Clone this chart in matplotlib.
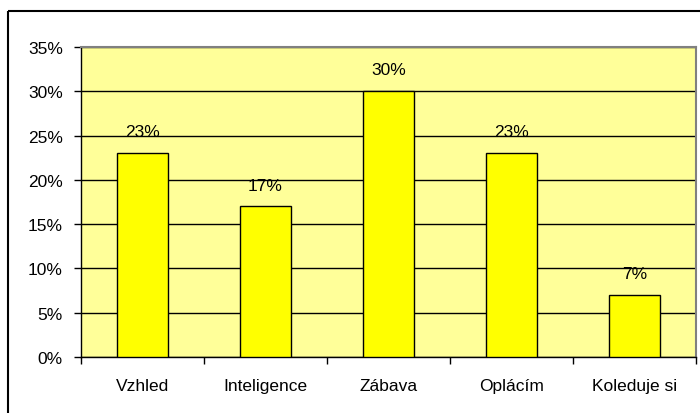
import matplotlib
matplotlib.use("Agg")
import matplotlib.pyplot as plt
from matplotlib.patches import Rectangle

categories = ["Vzhled", "Inteligence", "Zábava", "Oplácím", "Koleduje si"]
values = [23, 17, 30, 23, 7]
yticks = [0, 5, 10, 15, 20, 25, 30, 35]
ytick_labels = ["0%", "5%", "10%", "15%", "20%", "25%", "30%", "35%"]

W, H = 700, 414
fig = plt.figure(figsize=(W / 100, H / 100), dpi=100)
fig.patch.set_facecolor("white")
plt.rcParams["font.family"] = ["Liberation Sans", "DejaVu Sans"]

# outer chart border (cropped at right/bottom)
fig.patches.append(Rectangle((8 / W, 1 - 12 / H), 1.0, -1.0, transform=fig.transFigure,
                             fill=False, edgecolor="black", linewidth=1.5, zorder=10))

left, right, top, bottom = 81, 696, 48, 358
ax = fig.add_axes([left / W, 1 - bottom / H, (right - left) / W, (bottom - top) / H])
ax.set_facecolor("#FFFF99")

x = list(range(len(categories)))
bars = ax.bar(x, values, width=0.41, color="#FFFF00", edgecolor="black", linewidth=1.0, zorder=3)
ax.set_xlim(-0.5, len(categories) - 0.5)
ax.set_ylim(0, 35)

ax.set_yticks(yticks)
ax.set_yticklabels(ytick_labels, fontsize=12.5)
ax.yaxis.grid(True, color="black", linewidth=1.0, zorder=1)
ax.set_axisbelow(True)

ax.set_xticks(x)
ax.set_xticklabels(categories, fontsize=12.5)
ax.tick_params(axis="x", length=0, pad=15)
ax.set_xticks([i + 0.5 for i in range(-1, len(categories))], minor=True)
ax.tick_params(axis="x", which="minor", length=5, width=1, color="black", direction="out")
ax.tick_params(axis="y", length=5, width=1, color="black", direction="out", pad=8)

for s in ["left", "bottom"]:
    ax.spines[s].set_color("black")
    ax.spines[s].set_linewidth(1.0)
for s in ["top", "right"]:
    ax.spines[s].set_color("#808080")
    ax.spines[s].set_linewidth(1.5)

for xi, v in zip(x, values):
    ax.annotate(f"{v}%", (xi, v), xytext=(0, 10), textcoords="offset points",
                ha="center", va="bottom", fontsize=12.5, color="black", zorder=5)

fig.savefig("out.png", dpi=100)
